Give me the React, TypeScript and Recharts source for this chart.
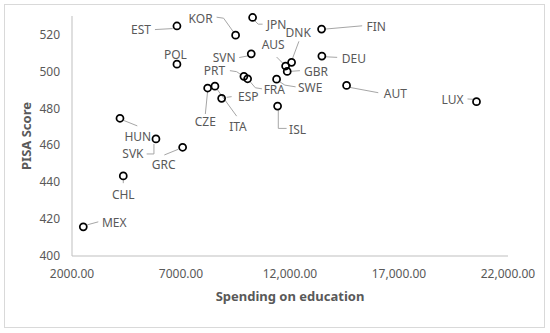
import React from 'react';
import { ScatterChart, Scatter, XAxis, YAxis } from 'recharts';

const countries = ['EST', 'KOR', 'JPN', 'POL', 'SVN', 'PRT', 'FRA', 'CZE', 'ITA', 'ESP', 'HUN', 'SVK', 'GRC', 'CHL', 'MEX',
    'FIN', 'DEU', 'DNK', 'AUS', 'GBR', 'SWE', 'ISL', 'AUT', 'LUX'];
const spending = [6814, 9505, 10285, 6814, 10222, 9886, 10056, 8222, 8557, 8864, 4201, 5851, 7075, 4352, 2518,
    13448, 13462, 12073, 11798, 11872, 11385, 11431, 14595, 20555];
const pisaScore = [524.6, 519.6, 529.2, 503.9, 509.5, 497.3, 496.0, 491.0, 492.0, 485.4, 474.6, 463.4, 458.9, 443.4, 415.8,
    522.9, 508.3, 504.9, 502.9, 500.0, 495.8, 481.2, 492.4, 483.6];

const xTicks = [2000, 7000, 12000, 17000, 22000];
const xTickLabels = ['2000.00', '7000.00', '12,000.00', '17,000.00', '22,000.00'];
const yTicks = [400, 420, 440, 460, 480, 500, 520];

const data = countries.map((name, i) => ({ name, x: spending[i], y: pisaScore[i] }));

// label placement relative to the marker, and leader line points
const labelPos: Record<string, { dx: number; dy: number; line?: number[][] }> = {
    EST: { dx: -36, dy: 4, line: [[-22, 3.6], [-4.3, 2.6]] },
    KOR: { dx: -35, dy: -17, line: [[-19, -18], [-12, -17], [-2, -3]] },
    JPN: { dx: 24, dy: 7, line: [[2.3, 3.4], [5.6, 6.7], [10, 6.7]] },
    POL: { dx: -1.5, dy: -10 },
    SVN: { dx: -27, dy: 3.6, line: [[-12, 3.7], [-3, 2]] },
    PRT: { dx: -29.5, dy: -5.6, line: [[-14, -5.7], [-7.3, -4.7], [-2.3, -1.3]] },
    FRA: { dx: 26.7, dy: 10.7, line: [[2, 2.3], [7.7, 9], [14.3, 10]] },
    CZE: { dx: -2.3, dy: 33, line: [[0, 3], [-2.3, 26]] },
    ITA: { dx: 23, dy: 40.7, line: [[2.3, 3.3], [21.7, 30]] },
    ESP: { dx: 26.6, dy: -1.6, line: [[5, -1], [10, -1.7]] },
    HUN: { dx: 17.8, dy: 18.4, line: [[4, 2.3], [17.3, 7.6]] },
    SVK: { dx: -23, dy: 15, line: [[-9.3, 15], [-2, 15], [-2, 5]] },
    GRC: { dx: -19, dy: 17.7, line: [[-18.3, 7.7], [-4.3, 2]] },
    CHL: { dx: 0, dy: 19, line: [[0, 3.5], [0, 7.3]] },
    MEX: { dx: 31, dy: -4.3, line: [[4, -2], [15, -5]] },
    FIN: { dx: 54.6, dy: -3, line: [[3.3, 0], [40.6, -3.3]] },
    DEU: { dx: 32, dy: 2.3, line: [[3, 0.7], [15.3, 1.3]] },
    DNK: { dx: 6.6, dy: -30, line: [[1, -4], [7.3, -21]] },
    AUS: { dx: -12.4, dy: -22, line: [[-9, -9], [-3, -3]] },
    GBR: { dx: 28.7, dy: 0.4, line: [[2.7, 0], [12.7, -0.7]] },
    SWE: { dx: 33.6, dy: 8.3, line: [[1.7, 1.7], [8.3, 6], [19, 7.7]] },
    ISL: { dx: 20, dy: 23.3, line: [[0.7, 4], [0.7, 22.3], [9, 22.3]] },
    AUT: { dx: 48.8, dy: 8, line: [[3.3, 2], [31.7, 7.3]] },
    LUX: { dx: -24, dy: -2.4, line: [[-9, -2.7], [-2.3, -2.3]] },
};

const GRAY = '#595959';
const FONT = '"Noto Sans", sans-serif';

const renderPoint = (props: any) => {
    const { cx, cy, payload } = props;
    const pos = labelPos[payload.name] || { dx: 0, dy: -12 };
    return (
        <g>
            {pos.line && (
                <polyline
                    points={pos.line.map((p) => `${cx + p[0]},${cy + p[1]}`).join(' ')}
                    fill="none"
                    stroke="#a6a6a6"
                    strokeWidth={1}
                />
            )}
            <circle cx={cx} cy={cy} r={3.5} fill="none" stroke="#000" strokeWidth={1.75} />
            <text x={cx + pos.dx} y={cy + pos.dy} fill={GRAY} fontSize={12} fontFamily={FONT}
                  textAnchor="middle" dominantBaseline="central">
                {payload.name}
            </text>
        </g>
    );
};

export default function App() {
    return (
        <div style={{ position: 'absolute', left: 0, top: 0, width: 550, height: 333, background: '#fff' }}>
            <div style={{ position: 'absolute', left: 4, top: 4, width: 539, height: 322, border: '1px solid #d9d9d9' }} />
            <ScatterChart width={550} height={333} margin={{ top: 16, right: 42, left: 0, bottom: 0 }}>
                <XAxis
                    type="number"
                    dataKey="x"
                    domain={[2000, 22000]}
                    ticks={xTicks}
                    interval={0}
                    height={77}
                    tickLine={false}
                    tickMargin={7}
                    stroke="#bfbfbf"
                    tick={{ fill: GRAY, fontSize: 12, fontFamily: FONT }}
                    tickFormatter={(v: number) => xTickLabels[xTicks.indexOf(v)]}
                />
                <YAxis
                    type="number"
                    dataKey="y"
                    domain={[400, 530]}
                    ticks={yTicks}
                    interval={0}
                    width={72}
                    tickLine={false}
                    tickMargin={6}
                    stroke="#bfbfbf"
                    tick={{ fill: GRAY, fontSize: 12, fontFamily: FONT }}
                />
                <Scatter data={data} shape={renderPoint} isAnimationActive={false} />
            </ScatterChart>
            <div style={{ position: 'absolute', left: 290, top: 296, transform: 'translate(-50%, -50%)', whiteSpace: 'nowrap',
                fontFamily: FONT, fontWeight: 'bold', fontSize: 13, color: GRAY }}>
                Spending on education
            </div>
            <div style={{ position: 'absolute', left: 26, top: 136, transform: 'translate(-50%, -50%) rotate(-90deg)', whiteSpace: 'nowrap',
                fontFamily: FONT, fontWeight: 'bold', fontSize: 13, color: GRAY }}>
                PISA Score
            </div>
        </div>
    );
}
